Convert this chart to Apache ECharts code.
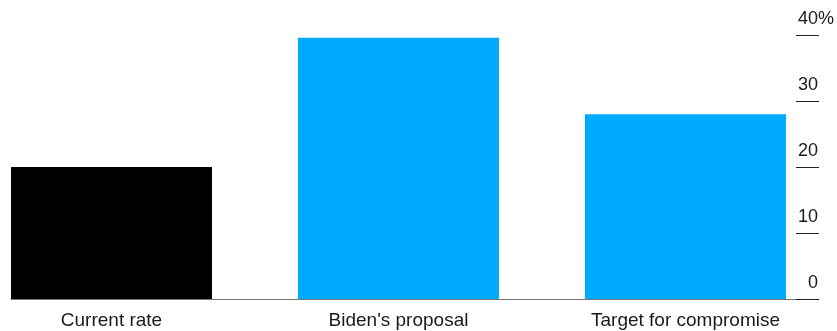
<!DOCTYPE html>
<html>
<head>
<meta charset="utf-8">
<script src="https://cdn.jsdelivr.net/npm/echarts@6/dist/echarts.min.js"></script>
<style>
html,body{margin:0;padding:0;background:#fff;}
#chart{width:837px;height:331px;}
</style>
</head>
<body>
<div id="chart"></div>
<script>
var categories = ["Current rate", "Biden's proposal", "Target for compromise"];
var rates = [20, 39.6, 28];
var barColors = ["#000000", "#00aaff", "#00aaff"];
var yTicks = [0, 10, 20, 30, 40];
var yUnit = "%";

var FONT = "'Liberation Sans', Arial, Helvetica, sans-serif";
var chart = echarts.init(document.getElementById('chart'), null, {renderer: 'canvas'});
var yMin = yTicks[0], yMax = yTicks[yTicks.length - 1], yStep = yTicks[1] - yTicks[0];
var positions = categories.map(function (c, i) { return i; });

chart.setOption({
  animation: false,
  backgroundColor: '#ffffff',
  grid: {left: 11, right: 18, top: 35, bottom: 32, containLabel: false, outerBoundsMode: 'none'},
  xAxis: {
    type: 'value', min: -0.3502, max: 2.4652,
    axisLine: {show: true, onZero: false, lineStyle: {color: '#777777', width: 1}},
    axisTick: {show: false},
    splitLine: {show: false},
    axisLabel: {
      customValues: positions,
      color: '#1a1a1a', fontSize: 19, fontFamily: FONT, margin: 12,
      formatter: function (v) { return categories[Math.round(v)]; }
    }
  },
  yAxis: [
    {
      type: 'value', position: 'right', min: yMin, max: yMax, interval: yStep,
      axisLine: {show: false, onZero: false},
      axisTick: {show: true, inside: true, length: 23, lineStyle: {color: '#222222', width: 1}},
      splitLine: {show: false},
      axisLabel: {
        inside: true, margin: 1, align: 'right', verticalAlign: 'bottom',
        padding: [0, 0, 7, 0],
        color: '#1a1a1a', fontSize: 18, fontFamily: FONT
      }
    },
    {
      type: 'value', position: 'right', min: yMin, max: yMax, interval: yStep,
      axisLine: {show: false, onZero: false}, axisTick: {show: false}, splitLine: {show: false},
      axisLabel: {
        inside: false, margin: -1, align: 'left', verticalAlign: 'bottom',
        padding: [0, 0, 7, 0],
        color: '#1a1a1a', fontSize: 18, fontFamily: FONT,
        formatter: function (v) { return v === yMax ? yUnit : ''; }
      }
    }
  ],
  series: [{
    type: 'bar', xAxisIndex: 0, yAxisIndex: 0,
    barWidth: 201,
    data: rates.map(function (v, i) { return {value: [positions[i], v], itemStyle: {color: barColors[i]}}; })
  }]
});
</script>
</body>
</html>
